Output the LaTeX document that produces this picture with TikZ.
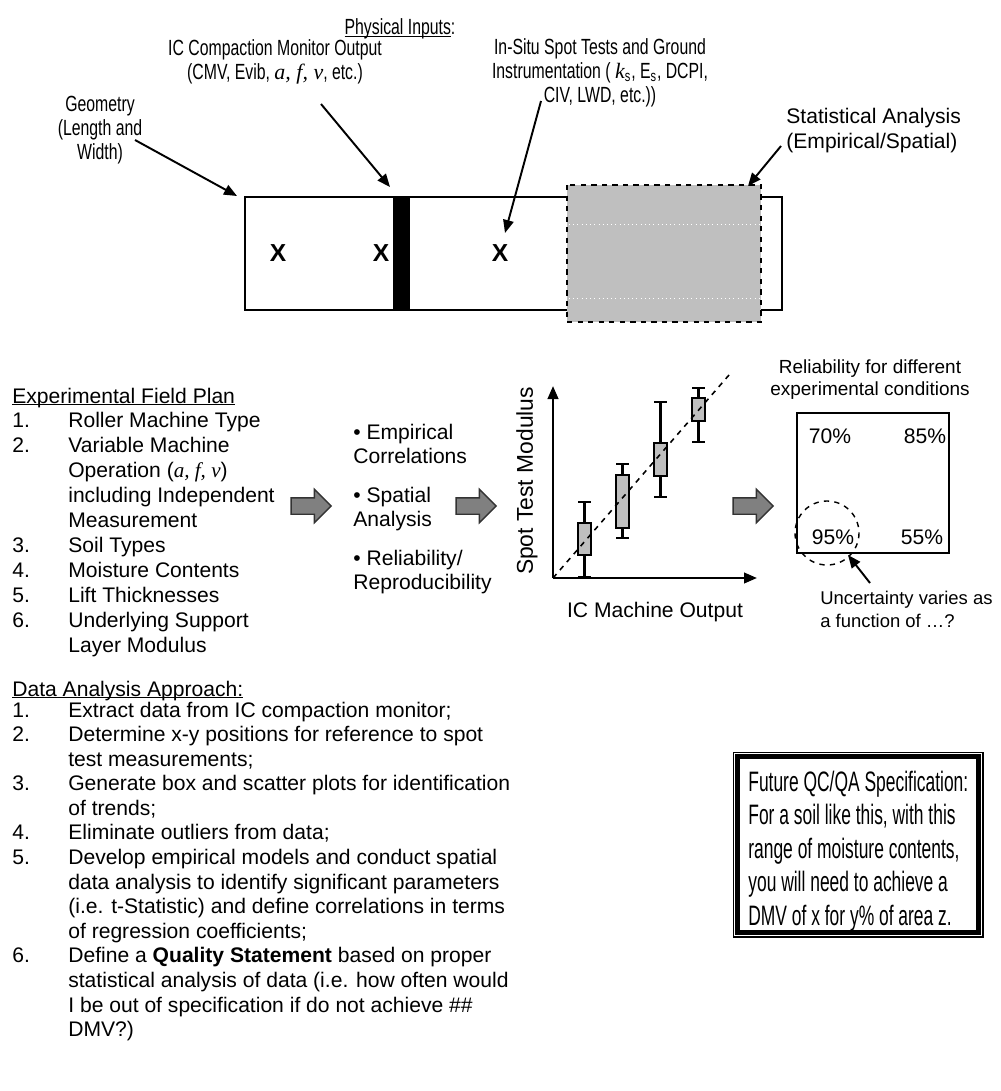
\documentclass[tikz,border=0pt]{standalone}
\usepackage{fontspec}
\setmainfont{Liberation Sans}
\newfontfamily\narrowfont[FakeStretch=0.72]{Liberation Sans}
\newfontfamily\specfont[FakeStretch=0.62]{Liberation Sans}
\newfontfamily\seriffont{Liberation Serif}
\usetikzlibrary{arrows.meta, shapes.arrows, positioning, calc}
\newcommand{\var}[1]{{\seriffont\itshape #1}}
\newcommand{\undl}[1]{\setbox0=\hbox{#1}\rlap{\rule[-1.3pt]{\wd0}{0.6pt}}\box0}

\begin{document}
\begin{tikzpicture}[x=0.02cm, y=-0.02cm, font=\fontsize{12}{14.2}\selectfont, >={Triangle[length=2.6mm,width=2.1mm]},
    toplbl/.style={inner sep=0pt, align=center, font=\narrowfont\fontsize{12.5}{13.6}\selectfont},
    pointer/.style={->, line width=1.1pt},
    xmark/.style={inner sep=0pt, font=\fontsize{14}{16}\selectfont\bfseries},
    blockarrow/.style={single arrow, draw=black!80, fill=black!50, line width=0.8pt, inner sep=0.15cm,
        single arrow head extend=0.17cm, minimum height=0.8cm},
    whisker/.style={line width=1.4pt},
    boxbar/.style={draw, fill=black!25, line width=1pt},
    pct/.style={inner sep=0pt}]
    \useasboundingbox (0,0) rectangle (1000,1091);

    % Physical inputs
    \node[toplbl] (phys) at (400,29) {\undl{Physical Inputs}:};
    \node[toplbl] (geom) at (100,130) {Geometry\\(Length and\\Width)};
    \node[toplbl] (icout) at (275,62) {IC Compaction Monitor Output\\(CMV, Evib, \var{a, f, v}, etc.)};
    \node[toplbl] (insitu) at (600,73) {In-Situ Spot Tests and Ground\\Instrumentation ( \var{k}\textsubscript{s}, E\textsubscript{s}, DCPI,\\CIV, LWD, etc.))};
    \node[inner sep=0pt, align=left, anchor=west] (stats) at (786,131) {Statistical Analysis\\(Empirical/Spatial)};

    % test strip
    \draw[line width=0.9pt] (245,197) rectangle (782,310);
    \draw[dashed, fill=black!25, line width=0.8pt] (567,185) rectangle (761,322);
    \draw[white, dotted, line width=0.4pt] (569,224) -- (759,224);
    \draw[white, dotted, line width=0.4pt] (569,298) -- (759,298);
    \fill (393,197) rectangle (410,310);
    \node[xmark] (x1) at (278,253) {X};
    \node[xmark] (x2) at (381,253) {X};
    \node[xmark] (x3) at (500,253) {X};

    \coordinate (geomtail) at (135,140);
    \coordinate (geomhead) at (237,196);
    \coordinate (ictail) at (321,104);
    \coordinate (ichead) at (390,187);
    \coordinate (insitutail) at (541,101);
    \coordinate (insituhead) at (505,233);
    \coordinate (statstail) at (781,146);
    \coordinate (statshead) at (748,186);
    \draw[pointer] (geomtail) -- (geomhead);
    \draw[pointer] (ictail) -- (ichead);
    \draw[pointer] (insitutail) -- (insituhead);
    \draw[pointer] (statstail) -- (statshead);

    % field plan
    \node[anchor=base west, inner sep=0pt] (fieldplan) at (12,403) {\begin{tabular}[t]{@{}p{1.12cm}@{}l@{}}
        \multicolumn{2}{@{}l@{}}{\undl{Experimental Field Plan}}\\
        1. & Roller Machine Type\\
        2. & Variable Machine\\
           & Operation (\var{a, f, v})\\
           & including Independent\\
           & Measurement\\
        3. & Soil Types\\
        4. & Moisture Contents\\
        5. & Lift Thicknesses\\
        6. & Underlying Support\\
           & Layer Modulus
    \end{tabular}};
    \node[blockarrow] (ba1) at (307,506) {};
    \node[inner sep=0pt, align=left, anchor=west, font=\fontsize{12}{13.6}\selectfont] (methods) at (353,509)
        {• Empirical\\Correlations\\[8.5pt]• Spatial\\Analysis\\[8.5pt]• Reliability/\\Reproducibility};
    \node[blockarrow] (ba2) at (472,506) {};

    % correlation chart
    \coordinate (origin) at (553,578);
    \draw[->, line width=1.4pt] (origin) -- (553,386);
    \draw[->, line width=1.4pt] (origin) -- (757,578);
    \draw[whisker] (584.5,577) -- (584.5,502);
    \draw[whisker] (578,577) -- (591,577);
    \draw[whisker] (578,502) -- (591,502);
    \draw[boxbar] (578,555) rectangle (591,523);
    \draw[whisker] (622.5,538) -- (622.5,464);
    \draw[whisker] (616,538) -- (629,538);
    \draw[whisker] (616,464) -- (629,464);
    \draw[boxbar] (616,528) rectangle (629,475);
    \draw[whisker] (660.5,497) -- (660.5,402);
    \draw[whisker] (654,497) -- (667,497);
    \draw[whisker] (654,402) -- (667,402);
    \draw[boxbar] (654,476) rectangle (667,443);
    \draw[whisker] (698.5,442) -- (698.5,388);
    \draw[whisker] (692,442) -- (705,442);
    \draw[whisker] (692,388) -- (705,388);
    \draw[boxbar] (692,421) rectangle (705,398);
    \draw[dashed, line width=0.9pt] (origin) -- (729,375);
    \node[inner sep=0pt, rotate=90, font=\fontsize{13}{15}\selectfont] (ylbl) at (527,481) {Spot Test Modulus};
    \node[inner sep=0pt] (xlbl) at (655,612) {IC Machine Output};
    \node[blockarrow] (ba3) at (749,506) {};

    % reliability
    \node[inner sep=0pt, align=center, font=\fontsize{10.8}{12.6}\selectfont] (rellbl) at (870,380)
        {Reliability for different\\experimental conditions};
    \node[draw, line width=1pt, minimum width=3.04cm, minimum height=2.8cm] (relbox) at (873,483) {};
    \node[pct] (p70) at (830,436) {70\%};
    \node[pct] (p85) at (925,436) {85\%};
    \node[pct] (p95) at (833,537) {95\%};
    \node[pct] (p55) at (922,537) {55\%};
    \draw[dashed, line width=0.8pt] (827,533) circle (32);
    \node[inner sep=0pt, align=left, anchor=west, font=\fontsize{10.5}{13}\selectfont] (uncert) at (820,609)
        {Uncertainty varies as\\a function of …?};
    \coordinate (unctail) at (870,583);
    \coordinate (unchead) at (848,555);
    \draw[pointer] (unctail) -- (unchead);

    % data analysis
    \node[anchor=base west, inner sep=0pt] (datahead) at (12,696) {\undl{Data Analysis Approach:}};
    \node[anchor=base west, inner sep=0pt, font=\fontsize{12}{14}\selectfont] (datalist) at (12,717) {\begin{tabular}[t]{@{}p{1.12cm}@{}l@{}}
        1. & Extract data from IC compaction monitor;\\
        2. & Determine x-y positions for reference to spot\\
           & test measurements;\\
        3. & Generate box and scatter plots for identification\\
           & of trends;\\
        4. & Eliminate outliers from data;\\
        5. & Develop empirical models and conduct spatial\\
           & data analysis to identify significant parameters\\
           & (i.e. t-Statistic) and define correlations in terms\\
           & of regression coefficients;\\
        6. & Define a \textbf{Quality Statement} based on proper\\
           & statistical analysis of data (i.e. how often would\\
           & I be out of specification if do not achieve \#\#\\
           & DMV?)
    \end{tabular}};

    % specification
    \node[draw, line width=0.6pt, minimum width=5cm, minimum height=3.7cm] (specbox) at (858,844.5) {};
    \draw[line width=2.8pt] ($(specbox.north west)+(5,5)$) rectangle ($(specbox.south east)+(-5,-5)$);
    \node[inner sep=0pt, align=left, anchor=west, font=\specfont\fontsize{16}{19.1}\selectfont] (spectext) at (748,851)
        {Future QC/QA Specification:\\For a soil like this, with this\\range of moisture contents,\\you will need to achieve a\\DMV of x for y\% of area z.};
\end{tikzpicture}
\end{document}
